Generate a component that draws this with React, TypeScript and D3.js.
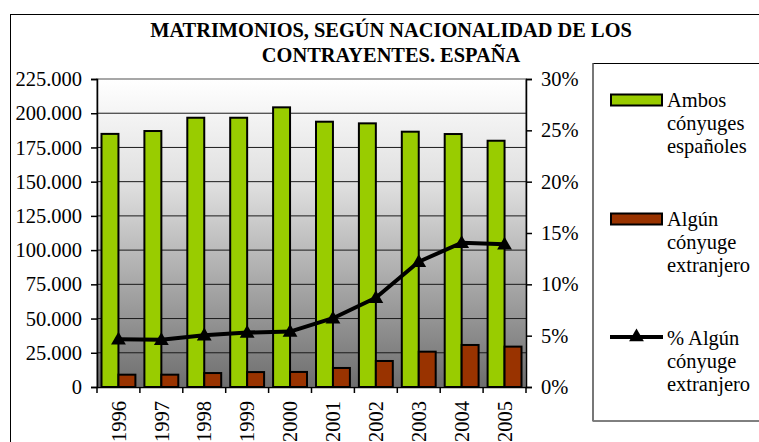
import React, { useRef, useEffect } from 'react';
import * as d3 from 'd3';

// Matrimonios segun nacionalidad de los contrayentes (Espana)
const YEARS = ['1996', '1997', '1998', '1999', '2000', '2001', '2002', '2003', '2004', '2005'];
const AMBOS_ESP = [184900, 187000, 196700, 196700, 204300, 193800, 192600, 186500, 184800, 179900];
const ALGUN_EXT = [9000, 9000, 10200, 10900, 11000, 13900, 19000, 25800, 30700, 29500];
const PCT_EXT = [4.65, 4.6, 5.05, 5.3, 5.4, 6.7, 8.7, 12.2, 14.05, 13.9];
const LEFT_TICKS = [0, 25000, 50000, 75000, 100000, 125000, 150000, 175000, 200000, 225000];
const RIGHT_TICKS = [0, 5, 10, 15, 20, 25, 30];

const GREEN = '#99cc00';
const RED = '#993300';
const FONT = 'Liberation Serif, Tinos, DejaVu Serif, serif';
const FS = 20.5;

const W = 759;
const H = 442;

const fmtThousands = (v: number) => d3.format(',')(v).replace(/,/g, '.');

function ChartInner() {
  const svgRef = useRef<SVGSVGElement | null>(null);

  useEffect(() => {
    if (!svgRef.current) return;
    const svg = d3.select(svgRef.current);
    svg.selectAll('*').remove();

    const plot = { left: 97, right: 526, top: 79, bottom: 387 };

    const x = d3.scaleBand().domain(YEARS).range([plot.left, plot.right]).padding(0);
    const series = d3.scaleBand().domain(['ambos', 'algun']).range([4.5, x.bandwidth() - 4.5]).padding(0);
    const y = d3.scaleLinear().domain([0, 225000]).range([plot.bottom, plot.top]);
    const yPct = d3.scaleLinear().domain([0, 30]).range([plot.bottom, plot.top]);

    // Outer frame
    svg.append('rect')
      .attr('x', 10.5).attr('y', 14.5)
      .attr('width', 900).attr('height', 600)
      .attr('fill', '#fff').attr('stroke', '#000').attr('stroke-width', 1);

    // Title
    const title = svg.append('text')
      .attr('text-anchor', 'middle')
      .style('font-family', FONT)
      .attr('font-weight', 'bold')
      .attr('font-size', 20.4)
      .attr('fill', '#000');
    title.append('tspan').attr('x', 391).attr('y', 37).text('MATRIMONIOS, SEGÚN NACIONALIDAD DE LOS');
    title.append('tspan').attr('x', 391).attr('y', 62).text('CONTRAYENTES. ESPAÑA');

    // Plot background gradient
    const defs = svg.append('defs');
    const grad = defs.append('linearGradient').attr('id', 'plotBg')
      .attr('x1', 0).attr('y1', 0).attr('x2', 0).attr('y2', 1);
    grad.append('stop').attr('offset', '0%').attr('stop-color', '#ffffff');
    grad.append('stop').attr('offset', '35%').attr('stop-color', '#dedede');
    grad.append('stop').attr('offset', '100%').attr('stop-color', '#6e6e6e');

    svg.append('rect')
      .attr('x', plot.left).attr('y', plot.top)
      .attr('width', plot.right - plot.left).attr('height', plot.bottom - plot.top)
      .attr('fill', 'url(#plotBg)')
      .attr('stroke', '#8a8a8a').attr('stroke-width', 1.5);

    // Gridlines
    svg.append('g')
      .selectAll('line')
      .data(LEFT_TICKS.filter(t => t > 0 && t < 225000))
      .join('line')
      .attr('x1', plot.left).attr('x2', plot.right)
      .attr('y1', d => y(d)).attr('y2', d => y(d))
      .attr('stroke', '#1a1a1a').attr('stroke-width', 1);

    // Bars
    const groups = svg.append('g')
      .selectAll('g')
      .data(YEARS.map((yr, i) => ({ yr, ambos: AMBOS_ESP[i], algun: ALGUN_EXT[i] })))
      .join('g')
      .attr('transform', d => `translate(${x(d.yr)},0)`);

    groups.append('rect')
      .attr('x', series('ambos')!)
      .attr('width', series.bandwidth())
      .attr('y', d => y(d.ambos))
      .attr('height', d => y(0) - y(d.ambos))
      .attr('fill', GREEN).attr('stroke', '#000').attr('stroke-width', 2);

    groups.append('rect')
      .attr('x', series('algun')!)
      .attr('width', series.bandwidth())
      .attr('y', d => y(d.algun))
      .attr('height', d => y(0) - y(d.algun))
      .attr('fill', RED).attr('stroke', '#000').attr('stroke-width', 2);

    // Line on secondary axis
    const cx = (yr: string) => x(yr)! + x.bandwidth() / 2;
    const line = d3.line<number>()
      .x((_, i) => cx(YEARS[i]))
      .y(d => yPct(d));
    svg.append('path')
      .datum(PCT_EXT)
      .attr('d', line)
      .attr('fill', 'none').attr('stroke', '#000').attr('stroke-width', 4)
      .attr('stroke-linejoin', 'round');

    const tri = d3.symbol().type(d3.symbolTriangle).size(95);
    svg.append('g')
      .selectAll('path')
      .data(PCT_EXT)
      .join('path')
      .attr('d', tri)
      .attr('transform', (d, i) => `translate(${cx(YEARS[i])},${yPct(d) + 1})`)
      .attr('fill', '#000');

    // Left axis
    const leftAxis = svg.append('g')
      .attr('transform', `translate(${plot.left},0)`)
      .call(d3.axisLeft(y).tickValues(LEFT_TICKS).tickFormat(d => fmtThousands(+d)).tickSize(6).tickPadding(9));
    leftAxis.select('.domain').attr('stroke', '#000').attr('stroke-width', 1.5);
    leftAxis.selectAll('.tick line').attr('stroke', '#000').attr('stroke-width', 1.5);
    leftAxis.selectAll('text').style('font-family', FONT).attr('font-size', FS).attr('fill', '#000');

    // Right axis
    const rightAxis = svg.append('g')
      .attr('transform', `translate(${plot.right},0)`)
      .call(d3.axisRight(yPct).tickValues(RIGHT_TICKS).tickFormat(d => `${d}%`).tickSize(6).tickPadding(9));
    rightAxis.select('.domain').attr('stroke', '#000').attr('stroke-width', 1.5);
    rightAxis.selectAll('.tick line').attr('stroke', '#000').attr('stroke-width', 1.5);
    rightAxis.selectAll('text').style('font-family', FONT).attr('font-size', FS).attr('fill', '#000');

    // Bottom axis
    const bottomAxis = svg.append('g')
      .attr('transform', `translate(0,${plot.bottom})`)
      .call(d3.axisBottom(x).tickSize(0).tickFormat(() => ''));
    bottomAxis.select('.domain').attr('stroke', '#000').attr('stroke-width', 1.5);
    bottomAxis.selectAll('.tick').remove();

    svg.append('g')
      .selectAll('line')
      .data([...YEARS.map(yr => x(yr)!), plot.right])
      .join('line')
      .attr('x1', d => d).attr('x2', d => d)
      .attr('y1', plot.bottom).attr('y2', plot.bottom + 6)
      .attr('stroke', '#000').attr('stroke-width', 1.5);

    svg.append('g')
      .selectAll('text')
      .data(YEARS)
      .join('text')
      .attr('transform', d => `translate(${cx(d)},${plot.bottom + 14}) rotate(-90)`)
      .attr('text-anchor', 'end')
      .attr('dy', '0.35em')
      .style('font-family', FONT).attr('font-size', FS).attr('fill', '#000')
      .text(d => d);

    // Legend
    const lg = svg.append('g');
    lg.append('rect')
      .attr('x', 593).attr('y', 63.5)
      .attr('width', 300).attr('height', 357.5)
      .attr('fill', '#fff').attr('stroke', '#000').attr('stroke-width', 1);
    lg.append('line')
      .attr('x1', 593).attr('x2', 593).attr('y1', 63.5).attr('y2', 421)
      .attr('stroke', '#777').attr('stroke-width', 2);

    const legendItems = [
      { kind: 'bar', color: GREEN, y: 100, lines: ['Ambos', 'cónyuges', 'españoles'], base: 107 },
      { kind: 'bar', color: RED, y: 219, lines: ['Algún', 'cónyuge', 'extranjero'], base: 226 },
      { kind: 'line', color: '#000', y: 337, lines: ['% Algún', 'cónyuge', 'extranjero'], base: 345 },
    ];

    legendItems.forEach(item => {
      if (item.kind === 'bar') {
        lg.append('rect')
          .attr('x', 611).attr('y', item.y - 5.5)
          .attr('width', 51).attr('height', 11)
          .attr('fill', item.color).attr('stroke', '#000').attr('stroke-width', 2);
      } else {
        lg.append('line')
          .attr('x1', 610).attr('x2', 663)
          .attr('y1', item.y).attr('y2', item.y)
          .attr('stroke', '#000').attr('stroke-width', 4);
        lg.append('path')
          .attr('d', tri)
          .attr('transform', `translate(636.5,${item.y})`)
          .attr('fill', '#000');
      }
      const t = lg.append('text')
        .style('font-family', FONT).attr('font-size', FS).attr('fill', '#000');
      item.lines.forEach((ln, i) => {
        t.append('tspan').attr('x', 667).attr('y', item.base + i * 23).text(ln);
      });
    });
  }, []);

  return (
    <svg
      ref={svgRef}
      width={W}
      height={H}
      style={{ position: 'absolute', left: 0, top: 0, background: '#fff' }}
    />
  );
}

export default function App() {
  return <ChartInner />;
}
